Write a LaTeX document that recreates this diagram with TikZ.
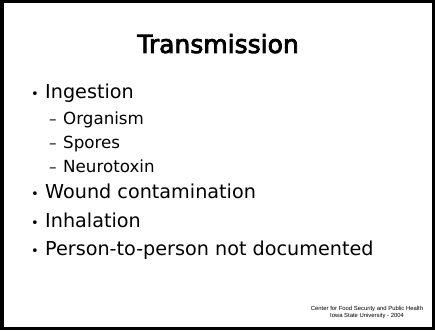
\documentclass[tikz,border=0pt]{standalone}
\usepackage{fontspec}
\setmainfont{DejaVu Sans}
\newfontfamily\footfont{Liberation Sans}
\newfontfamily\titlefont[FakeBold=3]{DejaVu Sans}
\usetikzlibrary{positioning}

\begin{document}
\begin{tikzpicture}[x=1pt, y=1pt,
    item/.style = {anchor=base west, inner sep=0pt, font=\fontsize{19.2}{23}\selectfont},
    subitem/.style = {anchor=base west, inner sep=0pt, font=\fontsize{16.7}{20}\selectfont},
    bulletmark/.style = {anchor=base west, inner sep=0pt, font=\fontsize{13}{16}\selectfont},
    dashmark/.style = {anchor=base west, inner sep=0pt, font=\fontsize{15}{16}\selectfont},
    foot/.style = {anchor=base, inner sep=0pt, font=\footfont\fontsize{5.9}{7}\selectfont}]
        \useasboundingbox (0,0) rectangle (435,330);
        % Frame
        \draw [line width=3.5pt] (1.75,1.75) rectangle (433.25,328.25);

        % Title
        \node [anchor=base, inner sep=0pt, font=\titlefont\fontsize{25}{30}\selectfont] (title) at (218,277) {Transmission};

        % Bullets
        \node [bulletmark] (b1) at (31,232) {•};
        \node [item] (ingestion) at (45,232) {Ingestion};
        \node [dashmark] (d1) at (49,206) {–};
        \node [subitem] (organism) at (63,206) {Organism};
        \node [dashmark] (d2) at (49,182) {–};
        \node [subitem] (spores) at (63,182) {Spores};
        \node [dashmark] (d3) at (49,158) {–};
        \node [subitem] (neurotoxin) at (63,158) {Neurotoxin};
        \node [bulletmark] (b2) at (31,132) {•};
        \node [item] (wound) at (45,132) {Wound contamination};
        \node [bulletmark] (b3) at (31,103) {•};
        \node [item] (inhalation) at (45,103) {Inhalation};
        \node [bulletmark] (b4) at (31,75) {•};
        \node [item] (person) at (45,75) {Person-to-person not documented};

        % Footer
        \node [foot] (center) at (367,20) {Center for Food Security and Public Health};
        \node [foot] (isu) at (367,13) {Iowa State University - 2004};
    \end{tikzpicture}
\end{document}
